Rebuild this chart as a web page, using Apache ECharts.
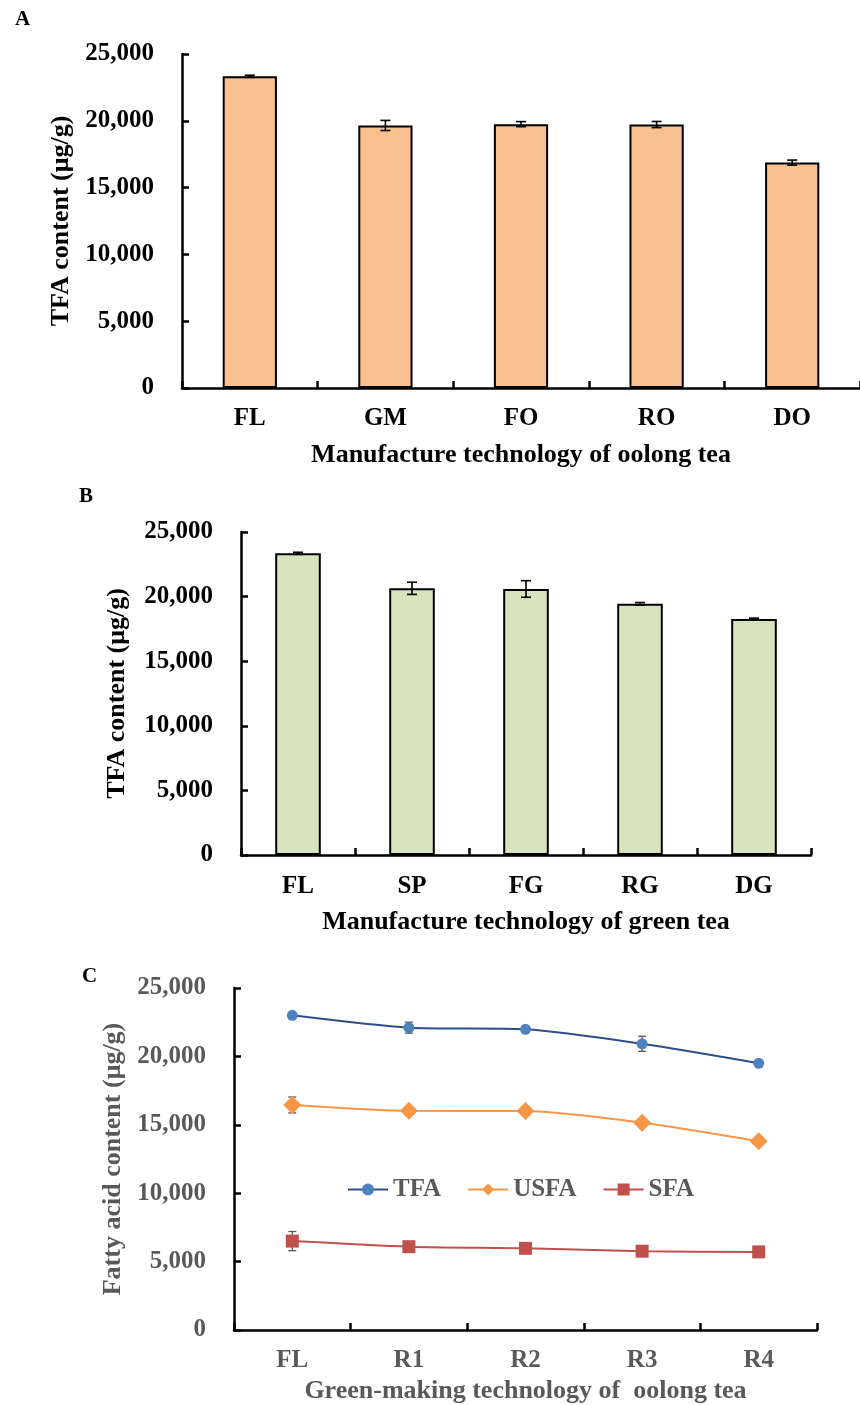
<!DOCTYPE html>
<html>
<head>
<meta charset="utf-8">
<script src="https://cdn.jsdelivr.net/npm/echarts@6/dist/echarts.min.js"></script>
<style>
  html, body { margin: 0; padding: 0; background: #fff; }
  #chart { width: 860px; height: 1405px; }
</style>
</head>
<body>
<div id="chart"></div>
<script>
// Panel A: TFA during oolong tea manufacture
const catA = ['FL', 'GM', 'FO', 'RO', 'DO'];
const valsA = [23330, 19650, 19750, 19720, 16870];
const errA = [80, 380, 190, 230, 190];

// Panel B: TFA during green tea manufacture
const catB = ['FL', 'SP', 'FG', 'RG', 'DG'];
const valsB = [23350, 20640, 20590, 19440, 18260];
const errB = [80, 470, 640, 100, 70];

// Panel C: fatty acids across green-making steps
const catC = ['FL', 'R1', 'R2', 'R3', 'R4'];
const tfa = [23000, 22100, 21980, 20920, 19500];
const tfaErr = [100, 400, 80, 550, 80];
const usfa = [16450, 16020, 16000, 15150, 13800];
const usfaErr = [580, 100, 100, 100, 100];
const sfa = [6500, 6090, 5970, 5760, 5710];
const sfaErr = [700, 100, 100, 100, 100];

const yTicks = [0, 5000, 10000, 15000, 20000, 25000];

const FONT = "'Times New Roman', 'Liberation Serif', serif";
const GREY = '#595959';

function fmt(v) {
  return String(v).replace(/\B(?=(\d{3})+(?!\d))/g, ',');
}

function errorBars(color, cap, lw) {
  return function (params, api) {
    const i = api.value(0), v = api.value(1), e = api.value(2);
    const hi = api.coord([i, v + e]);
    const lo = api.coord([i, v - e]);
    const st = { stroke: color, lineWidth: lw };
    return {
      type: 'group',
      children: [
        { type: 'line', shape: { x1: hi[0], y1: hi[1], x2: lo[0], y2: lo[1] }, style: st },
        { type: 'line', shape: { x1: hi[0] - cap, y1: hi[1], x2: hi[0] + cap, y2: hi[1] }, style: st },
        { type: 'line', shape: { x1: lo[0] - cap, y1: lo[1], x2: lo[0] + cap, y2: lo[1] }, style: st }
      ]
    };
  };
}

function errData(vals, errs) {
  return vals.map((v, i) => [i, v, errs[i]]);
}

function xAxisFor(idx, cats, name, color, gap, margin) {
  return {
    type: 'category',
    gridIndex: idx,
    data: cats,
    name: name,
    nameLocation: 'middle',
    nameGap: gap,
    nameTextStyle: { fontFamily: FONT, fontWeight: 'bold', fontSize: 26, color: color },
    axisLine: { lineStyle: { color: '#000', width: 2.5 } },
    axisTick: { show: true, inside: true, interval: 0, length: 7, lineStyle: { color: '#000', width: 2.5 } },
    axisLabel: { fontFamily: FONT, fontWeight: 'bold', fontSize: 25, color: color, margin: margin },
    splitLine: { show: false }
  };
}

function yAxisFor(idx, name, color, gap) {
  return {
    type: 'value',
    gridIndex: idx,
    min: yTicks[0],
    max: yTicks[yTicks.length - 1],
    interval: yTicks[1] - yTicks[0],
    name: name,
    nameLocation: 'middle',
    nameGap: gap,
    nameTextStyle: { fontFamily: FONT, fontWeight: 'bold', fontSize: 26, color: color },
    axisLine: { show: true, lineStyle: { color: '#000', width: 2.5 } },
    axisTick: { show: true, inside: true, length: 7, lineStyle: { color: '#000', width: 2.5 } },
    axisLabel: { fontFamily: FONT, fontWeight: 'bold', fontSize: 25, color: color, margin: 28, formatter: fmt },
    splitLine: { show: false }
  };
}

const chart = echarts.init(document.getElementById('chart'), null, { renderer: 'canvas' });

const panelTitle = (t, left, top) => ({
  text: t, left: left, top: top, padding: 0,
  textStyle: { fontFamily: FONT, fontWeight: 'bold', fontSize: 21, color: '#000' }
});

chart.setOption({
  backgroundColor: '#ffffff',
  animation: false,
  title: [panelTitle('A', 15, 9), panelTitle('B', 79, 486), panelTitle('C', 82, 966)],
  grid: [
    { left: 182, top: 54, width: 688, height: 334 },
    { left: 241, top: 532, width: 570, height: 323 },
    { left: 234, top: 988, width: 583, height: 347 }
  ],
  xAxis: [
    xAxisFor(0, catA, 'Manufacture technology of oolong tea', '#000', 54, 18),
    xAxisFor(1, catB, 'Manufacture technology of green tea', '#000', 54, 19),
    xAxisFor(2, catC, 'Green-making technology of  oolong tea', GREY, 48, 18)
  ],
  yAxis: [
    yAxisFor(0, 'TFA content (μg/g)', '#000', 104),
    yAxisFor(1, 'TFA content (μg/g)', '#000', 111),
    yAxisFor(2, 'Fatty acid content (μg/g)', GREY, 104)
  ],
  legend: {
    data: ['TFA', 'USFA', 'SFA'],
    left: 342,
    top: 1172,
    itemWidth: 40,
    itemHeight: 15,
    itemGap: 26,
    textStyle: { fontFamily: FONT, fontWeight: 'bold', fontSize: 25, color: GREY }
  },
  series: [
    {
      type: 'bar', xAxisIndex: 0, yAxisIndex: 0, data: valsA, barWidth: '40%',
      itemStyle: { color: '#F9C18F', borderColor: '#000', borderWidth: 2 }
    },
    {
      type: 'custom', xAxisIndex: 0, yAxisIndex: 0, z: 5,
      renderItem: errorBars('#000', 5, 1.6), data: errData(valsA, errA)
    },
    {
      type: 'bar', xAxisIndex: 1, yAxisIndex: 1, data: valsB, barWidth: '40%',
      itemStyle: { color: '#D7E4BD', borderColor: '#000', borderWidth: 2 }
    },
    {
      type: 'custom', xAxisIndex: 1, yAxisIndex: 1, z: 5,
      renderItem: errorBars('#000', 5, 1.6), data: errData(valsB, errB)
    },
    {
      type: 'custom', xAxisIndex: 2, yAxisIndex: 2, z: 1,
      renderItem: errorBars(GREY, 4, 1.3), data: errData(tfa, tfaErr)
    },
    {
      type: 'custom', xAxisIndex: 2, yAxisIndex: 2, z: 1,
      renderItem: errorBars(GREY, 4, 1.3), data: errData(usfa, usfaErr)
    },
    {
      type: 'custom', xAxisIndex: 2, yAxisIndex: 2, z: 1,
      renderItem: errorBars(GREY, 4, 1.3), data: errData(sfa, sfaErr)
    },
    {
      name: 'TFA', type: 'line', xAxisIndex: 2, yAxisIndex: 2, z: 3, data: tfa,
      smooth: 0.25, symbol: 'circle', symbolSize: 11,
      lineStyle: { color: '#2A4F8A', width: 2 },
      itemStyle: { color: '#4F81BD' }
    },
    {
      name: 'USFA', type: 'line', xAxisIndex: 2, yAxisIndex: 2, z: 3, data: usfa,
      smooth: 0.25, symbol: 'diamond', symbolSize: 18,
      lineStyle: { color: '#F79646', width: 2 },
      itemStyle: { color: '#F79646' }
    },
    {
      name: 'SFA', type: 'line', xAxisIndex: 2, yAxisIndex: 2, z: 3, data: sfa,
      smooth: 0.25, symbol: 'rect', symbolSize: 13,
      lineStyle: { color: '#C0504D', width: 2 },
      itemStyle: { color: '#C0504D' }
    }
  ]
});
</script>
</body>
</html>
